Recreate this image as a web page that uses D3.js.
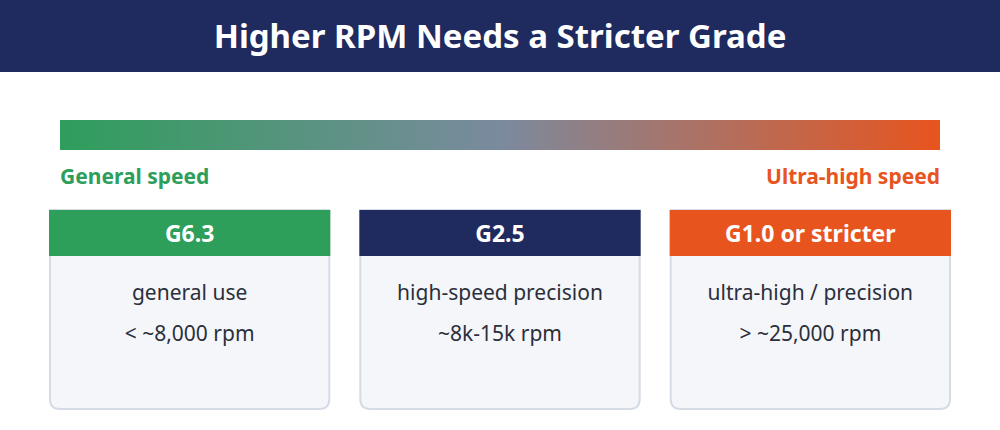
<!DOCTYPE html>
<html lang="en">
<head>
<script src="https://d3js.org/d3.v7.min.js"></script>
<style>body{margin:0;background:#fff}</style>
<title>RPM grades</title>
</head>
<body>
<div id="chart"></div>
<script>
const title = 'Higher RPM Needs a Stricter Grade';
const grades = ['G6.3', 'G2.5', 'G1.0 or stricter'];
const uses = ['general use', 'high-speed precision', 'ultra-high / precision'];
const speeds = ['< ~8,000 rpm', '~8k-15k rpm', '> ~25,000 rpm'];
const colours = ['#2e9e5b', '#1f2a5e', '#e8541e'];
const ends = ['General speed', 'Ultra-high speed'];

const W = 1000, H = 430, font = '"Noto Sans", "Open Sans", sans-serif';
const svg = d3.select('#chart').append('svg').attr('width', W).attr('height', H)
  .style('font-family', font);

// title bar
svg.append('rect').attr('width', W).attr('height', 72).attr('fill', '#1f2a5e');
svg.append('text').attr('x', W / 2).attr('y', 48).attr('text-anchor', 'middle')
  .attr('fill', '#fff').attr('font-size', 33).attr('font-weight', 700).text(title);

// gradient bar
const grad = svg.append('defs').append('linearGradient').attr('id', 'g');
grad.append('stop').attr('offset', '0%').attr('stop-color', '#2e9e5b');
grad.append('stop').attr('offset', '50%').attr('stop-color', '#7b8a9e');
grad.append('stop').attr('offset', '100%').attr('stop-color', '#e8541e');
svg.append('rect').attr('x', 60).attr('y', 120).attr('width', 880).attr('height', 30).attr('fill', 'url(#g)');
svg.append('text').attr('x', 60).attr('y', 184).attr('fill', colours[0]).attr('font-size', 21)
  .attr('font-weight', 700).text(ends[0]);
svg.append('text').attr('x', 940).attr('y', 184).attr('text-anchor', 'end').attr('fill', colours[2])
  .attr('font-size', 21).attr('font-weight', 700).text(ends[1]);

// cards
const x = d3.scaleBand().domain(grades).range([50, 950]).paddingInner(0.1);
const cardTop = 210, head = 46, cardBottom = 409, r = 10;
const card = svg.selectAll('g.card').data(grades).join('g').attr('class', 'card')
  .attr('transform', d => `translate(${x(d)},0)`);
const w = x.bandwidth();
card.append('path')
  .attr('d', `M0,${cardTop}H${w}V${cardBottom - r}Q${w},${cardBottom} ${w - r},${cardBottom}H${r}Q0,${cardBottom} 0,${cardBottom - r}Z`)
  .attr('fill', '#f4f6fa').attr('stroke', '#d5dce6').attr('stroke-width', 2);
card.append('rect').attr('x', -1).attr('y', cardTop).attr('width', w + 2).attr('height', head)
  .attr('fill', (d, i) => colours[i]);
card.append('text').attr('x', w / 2).attr('y', cardTop + 32).attr('text-anchor', 'middle')
  .attr('fill', '#fff').attr('font-size', 23).attr('font-weight', 700).text(d => d);
card.append('text').attr('x', w / 2).attr('y', 300).attr('text-anchor', 'middle')
  .attr('fill', '#2b2f3a').attr('font-size', 21).text((d, i) => uses[i]);
card.append('text').attr('x', w / 2).attr('y', 341).attr('text-anchor', 'middle')
  .attr('fill', '#2b2f3a').attr('font-size', 21).text((d, i) => speeds[i]);
</script>
</body>
</html>
